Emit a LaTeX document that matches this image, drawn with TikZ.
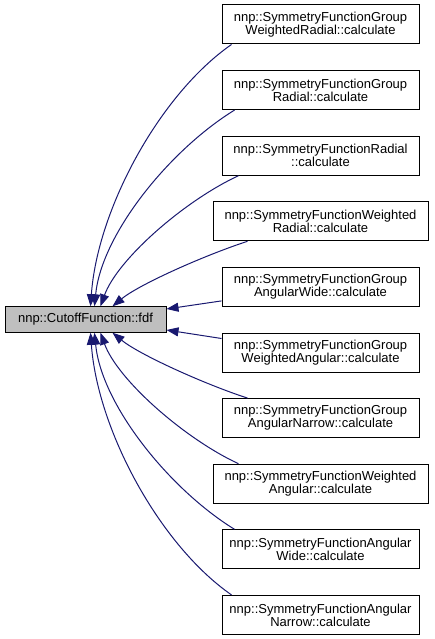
\documentclass[tikz,border=0pt]{standalone}
\usepackage{fontspec}
\setmainfont{Liberation Sans}
\usepackage{xcolor}
\usetikzlibrary{arrows.meta,positioning}
\definecolor{edgeblue}{HTML}{191970}

\begin{document}
\begin{tikzpicture}[x=1pt, y=1pt,
func/.style={rectangle, draw, align=center, minimum width=197pt, minimum height=39pt, inner sep=0pt, line width=1pt, font=\fontsize{13}{13}\selectfont},
widefunc/.style={func, minimum width=215pt},
focus/.style={func, fill=black!25, minimum width=161pt, minimum height=25.5pt},
arrow/.style={-{Triangle[length=12pt, width=9pt]}, draw=edgeblue, line width=1pt}
]
\useasboundingbox (0,0) rectangle (435,-639);

% Called function
\node[focus] (fdf) at (85.5,-319.5) {nnp::CutoffFunction::fdf};

% Callers
\node[func] (sfgwr) at (320.5,-24.5) {nnp::SymmetryFunctionGroup\\WeightedRadial::calculate};
\node[func, below=25.6pt of sfgwr] (sfgr) {nnp::SymmetryFunctionGroup\\Radial::calculate};
\node[func, below=25.6pt of sfgr] (sfr) {nnp::SymmetryFunctionRadial\\::calculate};
\node[widefunc, below=25.6pt of sfr] (sfwr) {nnp::SymmetryFunctionWeighted\\Radial::calculate};
\node[func, below=25.6pt of sfwr] (sfgaw) {nnp::SymmetryFunctionGroup\\AngularWide::calculate};
\node[func, below=25.6pt of sfgaw] (sfgwa) {nnp::SymmetryFunctionGroup\\WeightedAngular::calculate};
\node[func, below=25.6pt of sfgwa] (sfgan) {nnp::SymmetryFunctionGroup\\AngularNarrow::calculate};
\node[widefunc, below=25.6pt of sfgan] (sfwa) {nnp::SymmetryFunctionWeighted\\Angular::calculate};
\node[func, below=25.6pt of sfwa] (sfaw) {nnp::SymmetryFunctionAngular\\Wide::calculate};
\node[func, below=25.6pt of sfaw] (sfan) {nnp::SymmetryFunctionAngular\\Narrow::calculate};

% Upper calls
\draw[arrow] ([xshift=10pt]sfgwr.south west) .. controls +(-72,-50) and +(7,97) .. ([xshift=86pt]fdf.north west);
\draw[arrow] ([xshift=13pt]sfgr.south west) .. controls +(-65,-40) and +(7,72) .. ([xshift=90pt]fdf.north west);
\draw[arrow] ([xshift=17pt]sfr.south west) .. controls +(-54,-25) and +(17,47) .. ([xshift=96pt]fdf.north west);
\draw[arrow] ([xshift=35pt]sfwr.south west) .. controls +(-43,-14) and +(27,22) .. ([xshift=108pt]fdf.north west);

% Side calls
\draw[arrow] ([yshift=-14pt]sfgaw.west) -- ([yshift=10.5pt]fdf.east);
\draw[arrow] ([yshift=14pt]sfgwa.west) -- ([yshift=-10.5pt]fdf.east);

% Lower calls
\draw[arrow] ([xshift=26pt]sfgan.north west) .. controls +(-43,14) and +(27,-22) .. ([xshift=108pt]fdf.south west);
\draw[arrow] ([xshift=26pt]sfwa.north west) .. controls +(-54,25) and +(17,-47) .. ([xshift=96pt]fdf.south west);
\draw[arrow] ([xshift=13pt]sfaw.north west) .. controls +(-65,40) and +(7,-72) .. ([xshift=90pt]fdf.south west);
\draw[arrow] ([xshift=10pt]sfan.north west) .. controls +(-72,50) and +(7,-97) .. ([xshift=86pt]fdf.south west);

\end{tikzpicture}
\end{document}
